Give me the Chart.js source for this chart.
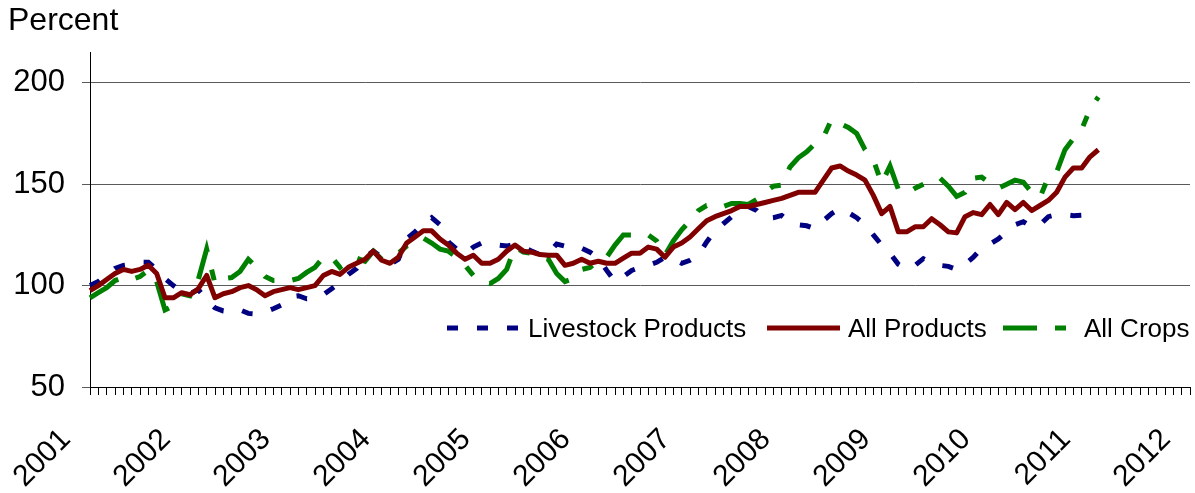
<!DOCTYPE html>
<html>
<head>
<meta charset="utf-8">
<script src="https://cdn.jsdelivr.net/npm/chart.js@4.4.0/dist/chart.umd.min.js"></script>
<style>
  html, body { margin: 0; padding: 0; background: #fff; }
  canvas { display: block; }
</style>
</head>
<body>
<canvas id="chart-1" width="1195" height="493"></canvas>
<script>
  // tick labels
  const yearLabels = ['2001', '2002', '2003', '2004', '2005', '2006', '2007', '2008', '2009', '2010', '2011', '2012'];
  const yTicks = [50, 100, 150, 200];

  // monthly values, Jan 2001 onwards (percent)
  const livestock = [
    100, 102, 105.5, 108.5, 110, 110.5, 111.5, 111.5, 108, 103.5,
    100, 97, 96, 98, 93, 89, 87.5, 87, 88, 86.3,
    86, 87, 88.6, 90.5, 94.5, 95, 93.5, 94, 95.5, 98.5,
    101.5, 105.5, 108.5, 114, 117, 114, 110.5, 113, 123, 126.5,
    130.5, 133.5, 130, 121.5, 118, 115.5, 119, 121, 121, 120,
    119.5, 120.5, 119, 117, 115.3, 116, 120.5, 119.5, 118, 118.5,
    116.5, 113.5, 107.5, 102, 104.5, 107.5, 109, 110, 111.5, 114,
    113, 111, 112.5, 115, 121.5, 127, 130.5, 134, 136.5, 139,
    137, 133, 133.5, 134.6, 131.3, 130, 129.5, 128, 132, 135.5,
    138, 136, 133.5, 130, 125, 120, 116, 110.5, 108, 110,
    113.3, 111, 110, 109.5, 108, 110.5, 114, 118.5, 120.5, 123,
    126.5, 130, 131.5, 129, 130, 134, 135, 135, 134.5, 134.7,
    136.5, 137.5
  ];
  const allProducts = [
    97.5, 100, 103, 106, 108, 107, 108, 110, 106, 94,
    94, 96.5, 95.5, 98.5, 105, 94, 96, 97, 99, 100,
    98, 95, 97, 98, 99, 98, 99, 100, 105, 107,
    105.5, 109, 111, 113, 117, 112.5, 111, 114, 121, 124,
    127, 127, 123, 120, 116, 113, 115, 111, 111, 113,
    117, 120, 117, 116.5, 115.3, 115, 115, 110, 111, 113,
    111, 112, 111, 111, 113.5, 116, 116, 119, 118, 114,
    119, 121, 124, 128, 132, 134, 135.5, 137, 139, 139,
    140, 141, 142, 143, 144.5, 146, 146, 146, 152, 158,
    159, 156.5, 154.5, 152, 144.5, 135.5, 139, 126.5, 126.5, 129,
    129, 133, 130, 126.5, 126, 134, 136, 135, 140, 135,
    141, 137.5, 141, 137, 139.5, 142, 146, 153.5, 158, 158,
    163.5, 167
  ];
  const allCrops = [
    94, 96.5, 99, 102.5, 104, 103, 104.5, 107.5, 102, 88,
    90, 96, 95, 103, 118, 101, 103.5, 104, 107, 113,
    109, 104.5, 102.5, 102.5, 102.5, 103.5, 106.5, 109, 114, 114,
    109, 112.5, 113.5, 112, 117, 113, 114, 116, 119.5, 121,
    123.5, 121, 118, 117, 114, 110, 105, 102, 101, 103.5,
    108, 119, 116.5, 116, 114, 113, 106, 102, 103.5, 108,
    109, 112.4, 114, 120, 125, 125, 125.5, 125, 122, 115,
    122, 127.5, 132, 137, 139.5, 140, 139, 140.5, 140.5, 140,
    142.5, 146, 149, 149.5, 158.5, 163, 166, 170, 173, 182,
    180, 178, 175, 167, 162, 150.5, 159, 147.5, 145.5, 148,
    150, 152, 153, 149, 144, 146, 153, 153.5, 150.5, 148,
    150, 152, 151, 146, 143.5, 153.5, 156, 167, 172.5, 177,
    187, 193
  ];

  // one category per month, Jan 2001 .. Jan 2012
  const months = [];
  yearLabels.forEach((yr, k) => {
    const last = k === yearLabels.length - 1 ? 1 : 12;
    for (let m = 1; m <= last; m++) months.push(yr + '-' + String(m).padStart(2, '0'));
  });

  const FONT = '"Liberation Sans", Arial, sans-serif';
  const legendSpots = [[0, 447], [1, 767], [2, 1003]];

  const insideLegend = {
    id: 'insideLegend',
    afterDatasetsDraw(chart) {
      const ctx = chart.ctx;
      ctx.save();
      ctx.font = '26px ' + FONT;
      ctx.textBaseline = 'middle';
      ctx.fillStyle = '#000';
      legendSpots.forEach(([di, x0]) => {
        const ds = chart.data.datasets[di];
        ctx.strokeStyle = ds.borderColor;
        ctx.lineWidth = ds.borderWidth;
        ctx.lineCap = 'butt';
        ctx.setLineDash(ds.borderDash || []);
        ctx.beginPath();
        ctx.moveTo(x0, 328);
        ctx.lineTo(x0 + 73, 328);
        ctx.stroke();
        ctx.setLineDash([]);
        ctx.fillText(ds.label, x0 + 81, 330);
      });
      ctx.restore();
    }
  };

  const chart = new Chart(document.getElementById('chart-1'), {
    type: 'line',
    data: {
      labels: months,
      datasets: [{
        label: 'Livestock Products',
        data: livestock,
        borderColor: '#000080',
        borderWidth: 5,
        borderDash: [11, 19],
        order: 3
      }, {
        label: 'All Products',
        data: allProducts,
        borderColor: '#800000',
        borderWidth: 5,
        borderJoinStyle: 'round',
        order: 1
      }, {
        label: 'All Crops',
        data: allCrops,
        borderColor: '#008000',
        borderWidth: 5,
        borderDash: [34, 18, 11, 18],
        order: 2
      }]
    },
    options: {
      responsive: false,
      animation: false,
      elements: {
        point: { radius: 0 },
        line: { tension: 0, fill: false, borderCapStyle: 'butt' }
      },
      layout: { padding: { left: 8, right: 5, top: 0, bottom: 0 } },
      plugins: {
        legend: { display: false },
        tooltip: { enabled: false },
        title: {
          display: true,
          text: 'Percent',
          align: 'start',
          color: '#000',
          font: { family: FONT, size: 32, weight: 'normal' },
          padding: { top: 2, bottom: 12 }
        }
      },
      scales: {
        x: {
          type: 'category',
          offset: false,
          afterFit: (scale) => {
            scale.height = 106;
            scale.paddingLeft = 0;
            scale.paddingRight = 0;
          },
          grid: { drawOnChartArea: false, drawTicks: true, tickLength: 8, color: '#000' },
          border: { display: true, color: '#000', width: 1 },
          ticks: {
            autoSkip: false,
            maxRotation: 45,
            minRotation: 45,
            padding: 27,
            labelOffset: -24,
            color: '#000',
            font: { family: FONT, size: 30 },
            callback: function (value) {
              const lbl = this.getLabelForValue(value);
              return lbl.endsWith('-01') ? lbl.slice(0, 4) : '';
            }
          }
        },
        y: {
          min: 50,
          max: 215,
          afterFit: (scale) => {
            scale.width = 82;
            scale.paddingTop = 0;
            scale.paddingBottom = 0;
          },
          afterBuildTicks: (axis) => {
            axis.ticks = yTicks.map(v => ({ value: v }));
          },
          grid: { color: '#5a5a5a', tickLength: 8, drawTicks: true },
          border: { display: true, color: '#000', width: 1 },
          ticks: {
            padding: 17,
            color: '#000',
            font: { family: FONT, size: 31 }
          }
        }
      }
    },
    plugins: [insideLegend]
  });
</script>
</body>
</html>
